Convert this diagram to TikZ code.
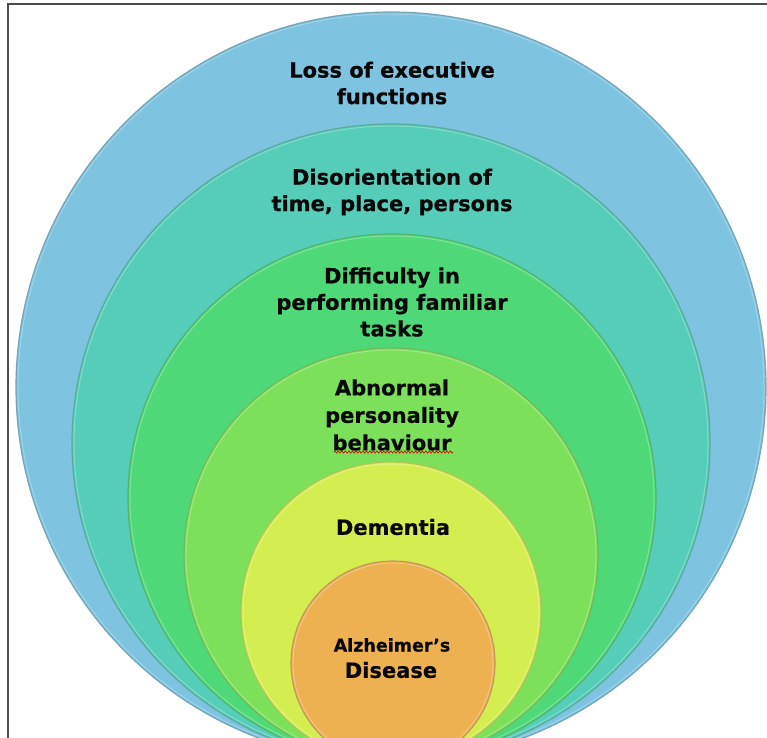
\documentclass[tikz,border=0pt]{standalone}
\usepackage{fontspec}
\setmainfont{DejaVu Sans}
\newfontfamily\lblfont{DejaVu Sans}[BoldFeatures={FakeBold=0.6}]
\usetikzlibrary{decorations.pathmorphing}
\definecolor{ringA}{RGB}{126,195,223}
\definecolor{ringB}{RGB}{86,205,184}
\definecolor{ringC}{RGB}{78,216,120}
\definecolor{ringD}{RGB}{124,224,90}
\definecolor{ringE}{RGB}{212,238,82}
\definecolor{ringF}{RGB}{237,177,82}
\definecolor{inkc}{RGB}{8,8,8}
\begin{document}
\begin{tikzpicture}[x=1pt,y=-1pt,
  ring/.style={circle, inner sep=0pt, minimum size=#1, line width=1.2pt},
  lbl/.style={font=\lblfont\bfseries\fontsize{21}{26.5}\selectfont, text=inkc, align=center},
  lbltight/.style={font=\lblfont\bfseries\fontsize{21}{27.5}\selectfont, text=inkc, align=center},
  lblsmall/.style={font=\lblfont\bfseries\fontsize{17.5}{22}\selectfont, text=inkc, align=center}]
\useasboundingbox (0,0) rectangle (767,737);
\clip (0,0) rectangle (767,737);
\fill[white] (0,0) rectangle (767,737);
% frame (only its left and top edges fall inside the page)
\draw[line width=1.2pt, black!70] (8,800) -- (8,4) -- (800,4);
% nested circles, all touching the same bottom point
\node[ring=750pt, fill=ringA, draw=ringA!80!black!90] (c1) at (391,387) {};
\node[ring=638pt, fill=ringB, draw=ringB!80!black!90] (c2) at (391,443) {};
\node[ring=528pt, fill=ringC, draw=ringC!80!black!90] (c3) at (392,498) {};
\node[ring=414pt, fill=ringD, draw=ringD!80!black!90] (c4) at (391,555) {};
\node[ring=300pt, fill=ringE, draw=ringE!80!black!90] (c5) at (391,612) {};
\node[ring=204pt, fill=ringF, draw=ringF!80!black!90] (c6) at (393,663) {};
% soft light rims just inside each edge
\foreach \n/\c/\r in {c1/ringA/373,c2/ringB/317,c3/ringC/262,c4/ringD/205,c5/ringE/148,c6/ringF/100}
  \draw[\c!55!white, line width=1pt, opacity=0.6] (\n.center) circle [radius=\r];
% labels
\node[lbl] (t1) at (392,83) {Loss of executive\\functions};
\node[lbl] (t2) at (392,192) {Disorientation of\\time, place, persons};
\node[lbl] (t3) at (392,302) {Difficulty in\\performing familiar\\tasks};
\node[lbltight] (t4) at (392,415) {Abnormal\\personality\\behaviour};
\node[lbl] (t5) at (393,527) {Dementia};
\node[lblsmall] (t6) at (392,645) {Alzheimer’s};
\node[lbl] (t7) at (391,670) {Disease};
% spell-check squiggle under the last word of the personality label
\coordinate (sqA) at (334,452);
\coordinate (sqB) at (453,452);
\draw[red!85!black, line width=0.6pt, decorate,
  decoration={zigzag, segment length=3.5pt, amplitude=1.2pt}] (sqA) -- (sqB);
\end{tikzpicture}
\end{document}
